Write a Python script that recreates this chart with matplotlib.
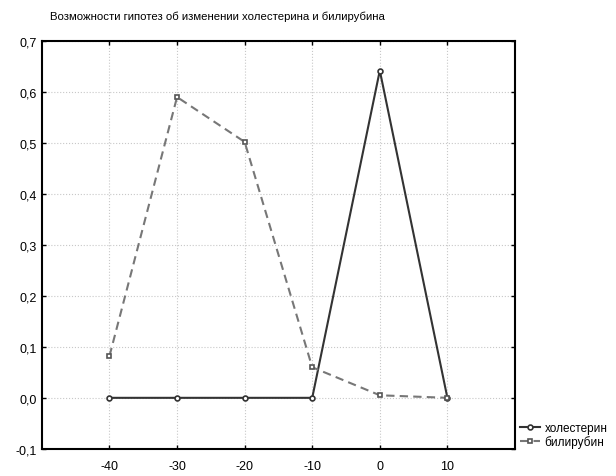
import numpy as np
import matplotlib as mpl
import matplotlib.pyplot as plt

mpl.rcParams['font.family'] = ['Liberation Sans', 'DejaVu Sans']
mpl.rcParams['axes.unicode_minus'] = False

x_vals = [-40, -30, -20, -10, 0, 10]
cholesterol = [0.0, 0.0, 0.0, 0.0, 0.642, 0.0]
bilirubin = [0.082, 0.590, 0.502, 0.060, 0.005, 0.0]
series_names = ['холестерин', 'билирубин']
title = 'Возможности гипотез об изменении холестерина и билирубина'
y_ticks = [-0.1, 0.0, 0.1, 0.2, 0.3, 0.4, 0.5, 0.6, 0.7]


def main() -> None:
    fig = plt.figure(figsize=(6.16, 4.77), dpi=100)
    ax = fig.add_axes([0.068, 0.057, 0.768, 0.855])

    ax.plot(x_vals, cholesterol, color='#333333', lw=1.5, marker='o', ms=3.5,
            mfc='white', mec='#333333', mew=1.2, label=series_names[0])
    ax.plot(x_vals, bilirubin, color='#777777', lw=1.5, ls=(0, (4, 2.5)),
            marker='s', ms=3.5, mfc='white', mec='#555555', mew=1.2,
            label=series_names[1])

    ax.set_xlim(-50, 20)
    ax.set_ylim(-0.1, 0.7)
    ax.set_xticks([-40, -30, -20, -10, 0, 10])
    ax.set_yticks(y_ticks)
    ax.set_yticklabels(['{:.1f}'.format(v).replace('.', ',') for v in y_ticks])
    ax.tick_params(direction='in', top=True, right=True, length=3,
                   labelsize=9, width=1)
    ax.tick_params(axis='x', pad=8)
    ax.grid(True, color='#c8c8c8', ls=':', lw=0.8)
    for s in ax.spines.values():
        s.set_linewidth(1.5)

    fig.text(0.081, 0.965, title, fontsize=8.2, ha='left', va='center')
    ax.legend(loc='lower left', bbox_to_anchor=(1.0, -0.01), frameon=False,
              fontsize=8.5, handlelength=1.7, handletextpad=0.4,
              labelspacing=0.1, borderaxespad=0.2, borderpad=0.2)

    fig.savefig('out.png', dpi=100)


if __name__ == '__main__':
    main()
